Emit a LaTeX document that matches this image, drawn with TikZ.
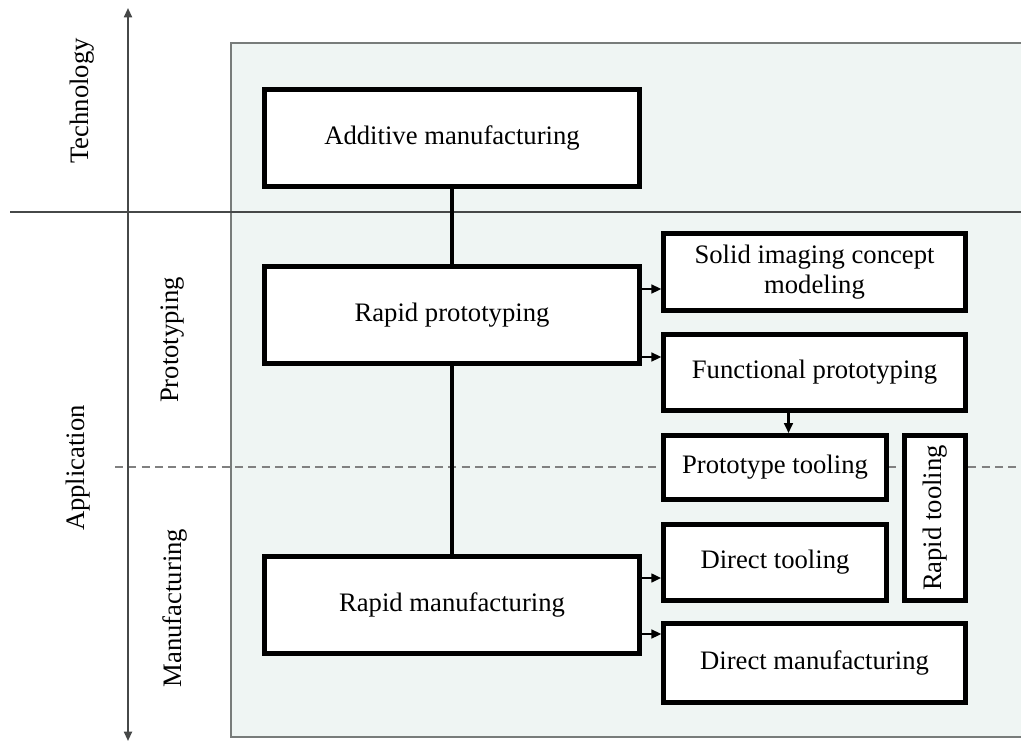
\documentclass[tikz,border=0pt]{standalone}
\usepackage{fontspec}
\setmainfont{Liberation Serif}
\usetikzlibrary{arrows.meta,calc}
\definecolor{panelfill}{RGB}{239,245,243}
\definecolor{panelline}{RGB}{120,124,122}
\definecolor{axisline}{RGB}{70,72,72}
\tikzset{
  box/.style={draw=black, line width=3.6pt, fill=white, align=center,
    inner sep=2pt, font=\fontsize{20}{23}\selectfont},
  side/.style={rotate=90, font=\fontsize{20}{23}\selectfont},
  arr/.style={line width=1.8pt, -{Triangle[length=7.5pt,width=6.5pt]}},
  link/.style={line width=2.6pt}
}
\begin{document}
\begin{tikzpicture}[x=0.75pt, y=-0.75pt]
\useasboundingbox (0,0) rectangle (1021,742);

% background panel
\fill[panelfill] (231,43) rectangle (1030,737);
\draw[panelline, line width=1.2pt] (1030,43) -- (231,43) -- (231,737) -- (1030,737);

% levels
\draw[axisline, line width=1.1pt] (10,212) -- (1021,212);
\draw[gray, line width=1.4pt, dash pattern=on 6pt off 4pt] (115,467) -- (1021,467);
\coordinate (top) at (128,8);
\coordinate (bot) at (128,741);
\draw[axisline, line width=1.4pt, {Triangle[length=7pt,width=6pt]}-{Triangle[length=7pt,width=6pt]}] (top) -- (bot);

\node[side] (tech) at (82,101) {Technology};
\node[side] (app) at (78,468) {Application};
\node[side] (proto) at (173,340) {Prototyping};
\node[side] (manu) at (175,608) {Manufacturing};

% boxes
\node[box, minimum width=281pt, minimum height=73pt] (add) at (452,138) {Additive manufacturing};
\node[box, minimum width=281pt, minimum height=73pt] (rp) at (452,315) {Rapid prototyping};
\node[box, minimum width=281pt, minimum height=73pt] (rm) at (452,605) {Rapid manufacturing};
\node[box, minimum width=226pt, minimum height=57.5pt] (sic) at (814.5,272) {Solid imaging concept\\[-1pt]modeling};
\node[box, minimum width=226pt, minimum height=57pt] (fp) at (814.5,372.5) {Functional prototyping};
\node[box, minimum width=167pt, minimum height=48pt] (pt) at (775,467.5) {Prototype tooling};
\node[box, minimum width=123.5pt, minimum height=45.5pt, rotate=90] (rt) at (935,518) {Rapid tooling};
\node[box, minimum width=167pt, minimum height=57pt] (dt) at (775,562.5) {Direct tooling};
\node[box, minimum width=226pt, minimum height=59pt] (dm) at (814.5,663) {Direct manufacturing};

% connectors
\draw[link] (add.south) -- (rp.north);
\draw[link] (rp.south) -- (rm.north);
\draw[arr] ($(rp.east)+(0,-26)$) coordinate (a1) -- (a1 -| sic.west);
\draw[arr] ($(rp.east)+(0,42)$) coordinate (a2) -- (a2 -| fp.west);
\draw[arr] ($(rm.east)+(0,-27)$) coordinate (a3) -- (a3 -| dt.west);
\draw[arr] ($(rm.east)+(0,29)$) coordinate (a4) -- (a4 -| dm.west);
\draw[arr] ($(fp.south)+(-26,0)$) coordinate (a5) -- (a5 |- pt.north);

\end{tikzpicture}
\end{document}
